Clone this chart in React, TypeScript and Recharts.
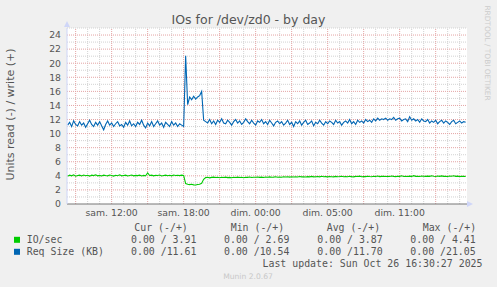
import { LineChart, Line, XAxis, YAxis, ReferenceLine, ReferenceArea } from "recharts";

// samples every 10 minutes, first one at sam. 08:20 (hours counted from sam. 00:00)
const START_HOUR = 8 + 20 / 60;
const STEP_HOURS = 10 / 60;

const ioPerSec = [
  3.95, 4.1, 4.0, 4.15, 3.95, 4.05, 4.1, 3.98, 4.12, 4.02,
  4.08, 3.96, 4.1, 4.03, 4.15, 4.0, 4.06, 3.98, 4.1, 4.04,
  4.0, 4.12, 4.05, 3.97, 4.08, 4.02, 4.14, 4.0, 4.06, 4.1,
  3.98, 4.05, 4.12, 4.0, 4.07, 4.03, 4.1, 3.99, 4.06, 4.02,
  4.41, 4.05, 4.1, 4.0, 4.08, 4.04, 4.12, 3.98, 4.06, 4.1,
  4.02, 4.08, 4.0, 4.11, 4.05, 4.09, 4.03, 4.1, 4.06,
  2.9, 2.8, 2.75, 2.8, 2.72, 2.69, 2.78, 2.8, 2.95, 3.5,
  3.75, 3.8, 3.72, 3.78, 3.82, 3.76, 3.8, 3.74, 3.79, 3.77,
  3.81, 3.75, 3.78, 3.73, 3.8, 3.77, 3.82, 3.76, 3.79, 3.74,
  3.8, 3.78, 3.83, 3.76, 3.8, 3.79, 3.84, 3.78, 3.81, 3.77,
  3.83, 3.8, 3.85, 3.79, 3.82, 3.86, 3.8, 3.84, 3.81, 3.87,
  3.83, 3.86, 3.82, 3.88, 3.84, 3.87, 3.83, 3.9, 3.85, 3.88,
  3.84, 3.89, 3.86, 3.92, 3.85, 3.88, 3.9, 3.86, 3.93, 3.87,
  3.89, 3.85, 3.91, 3.88, 3.86, 3.92, 3.87, 3.9, 3.95, 3.88,
  3.91, 3.87, 3.93, 3.89, 3.86, 3.92, 3.9, 3.96, 3.88, 3.91,
  3.89, 3.94, 3.9, 3.87, 3.93, 3.91, 3.97, 3.89, 3.92, 3.95,
  3.9, 3.94, 3.91, 3.98, 3.92, 3.89, 3.95, 3.93, 4.0, 3.91,
  3.94, 3.9, 3.96, 3.92, 4.02, 3.93, 3.95, 3.91, 3.97, 3.94,
  3.92, 3.96, 3.93, 4.01, 3.94, 3.9, 3.97, 3.93, 3.99, 3.92,
  3.95, 3.91, 3.97, 3.94, 4.02, 3.93, 3.96, 3.9, 3.95, 3.93, 3.91,
];

const reqSizeKb = [
  11.2, 11.6, 11.0, 11.8, 11.3, 11.1, 11.7, 11.2, 11.5, 10.9,
  11.4, 11.9, 11.3, 11.0, 11.6, 11.2, 11.7, 11.1, 10.54, 11.3,
  11.8, 11.2, 11.5, 11.0, 11.4, 11.7, 11.1, 11.3, 10.9, 11.6,
  11.2, 11.8, 11.1, 11.4, 11.0, 11.6, 11.3, 11.9, 11.2, 10.8,
  11.5, 11.1, 11.7, 11.0, 11.4, 11.8, 11.2, 11.5, 10.9, 11.6,
  11.3, 11.0, 11.7, 11.2, 11.5, 11.0, 11.4, 11.2, 11.0,
  21.05, 14.1, 15.2, 14.8, 15.3, 14.9, 15.2, 15.4, 16.0, 11.9,
  11.7, 11.5, 12.0, 11.4, 11.8, 11.3, 11.9, 11.6, 12.1, 11.5,
  11.4, 11.9, 11.6, 11.2, 11.7, 12.0, 11.5, 11.8, 11.3, 11.6,
  12.1, 11.7, 11.4, 11.9, 11.5, 11.2, 11.8, 11.6, 12.0, 11.4,
  11.7, 11.3, 11.9, 11.5, 11.1, 11.6, 11.8, 11.4, 11.7, 11.2,
  11.5, 11.9, 11.3, 11.6, 11.0, 11.7, 11.4, 11.8, 11.2, 11.6,
  11.9, 11.3, 11.5, 11.8, 11.1, 11.6, 11.4, 11.9, 11.5, 11.2,
  11.7, 11.4, 11.8, 11.6, 11.3, 11.9, 11.5, 11.7, 11.2, 11.6,
  11.8, 11.5, 12.0, 11.4, 11.7, 11.3, 11.9, 11.6, 11.8, 11.5,
  12.0, 11.7, 11.9, 11.6, 12.1, 11.8, 12.2, 11.9, 12.1, 12.0,
  12.2, 11.9, 12.1, 12.0, 12.3, 11.9, 12.1, 12.2, 11.8, 12.0,
  12.1, 11.7, 12.4, 11.9, 12.1, 11.8, 12.0, 11.6, 12.1, 11.8,
  11.7, 12.0, 11.5, 11.8, 11.6, 11.9, 11.4, 11.7, 11.9, 11.5,
  11.8, 11.6, 11.3, 11.7, 11.9, 11.4, 11.6, 11.8, 11.5, 11.7, 11.61,
];

const tickHours = [12, 18, 24, 30, 36];
const tickLabels = ["sam. 12:00", "sam. 18:00", "dim. 00:00", "dim. 05:00", "dim. 11:00"];
const yTicks = [0, 2, 4, 6, 8, 10, 12, 14, 16, 18, 20, 22, 24];

const seriesNames = ["IO/sec", "Req Size (KB)"];
const seriesColors = ["#00CC00", "#0066B3"];
const curValues = [[0, 3.91], [0, 11.61]];
const minValues = [[0, 2.69], [0, 10.54]];
const avgValues = [[0, 3.87], [0, 11.70]];
const maxValues = [[0, 4.41], [0, 21.05]];

const X_MIN = 8.28;
const X_MAX = 41.61;
const Y_MAX = 25;

const data = ioPerSec.map((v, i) => ({
  t: START_HOUR + i * STEP_HOURS,
  io: v,
  req: reqSizeKb[i],
}));

// rrdtool style grid: minor every hour / every unit, major every 3 hours / every 2 units
const minorX: number[] = [];
const majorX: number[] = [];
for (let h = 9; h <= 41; h++) (h % 3 === 0 ? majorX : minorX).push(h);
const minorY: number[] = [];
const majorY: number[] = [];
for (let v = 1; v <= Y_MAX; v++) (v % 2 === 0 ? majorY : minorY).push(v);

const MINOR = "#D2D2D2";
const MAJOR = "#E4A4A4";

const fmt = (pair: number[]) =>
  `${pair[0].toFixed(2)} /${pair[1].toFixed(2).padStart(5, " ")}`;

const sans = "'DejaVu Sans', sans-serif";
const mono = "'DejaVu Sans Mono', monospace";

export default function App() {
  return (
    <div style={{ position: "absolute", left: 0, top: 0, width: 497, height: 287, background: "#F0F0F0" }}>
      <LineChart
        width={497}
        height={287}
        data={data}
        margin={{ top: 28, right: 30, bottom: 53, left: 7 }}
      >
        <ReferenceArea x1={X_MIN} x2={X_MAX} y1={0} y2={Y_MAX} fill="#FFFFFF" fillOpacity={1} stroke="none" />
        {minorX.map((h) => (
          <ReferenceLine key={"mx" + h} x={h} stroke={MINOR} strokeDasharray="1 1" />
        ))}
        {minorY.map((v) => (
          <ReferenceLine key={"my" + v} y={v} stroke={MINOR} strokeDasharray="1 1" />
        ))}
        {majorX.map((h) => (
          <ReferenceLine key={"Mx" + h} x={h} stroke={MAJOR} strokeDasharray="1 1" />
        ))}
        {majorY.map((v) => (
          <ReferenceLine key={"My" + v} y={v} stroke={MAJOR} strokeDasharray="1 1" />
        ))}
        <XAxis
          dataKey="t"
          type="number"
          domain={[X_MIN, X_MAX]}
          allowDataOverflow
          ticks={tickHours}
          interval={0}
          tickFormatter={(h: number) => tickLabels[tickHours.indexOf(h)]}
          height={30}
          tickSize={0}
          tickMargin={5}
          axisLine={{ stroke: "#777" }}
          tick={{ fill: "#555", fontSize: 9.3, fontFamily: sans }}
        />
        <YAxis
          type="number"
          domain={[0, Y_MAX]}
          allowDataOverflow
          ticks={yTicks}
          interval={0}
          width={60}
          tickSize={0}
          tickMargin={6}
          axisLine={{ stroke: "#CFD6F8" }}
          tick={{ fill: "#555", fontSize: 9.3, fontFamily: sans }}
        />
        <Line dataKey="io" type="linear" stroke={seriesColors[0]} strokeWidth={1.1} dot={false} isAnimationActive={false} />
        <Line dataKey="req" type="linear" stroke={seriesColors[1]} strokeWidth={1.1} dot={false} isAnimationActive={false} />
      </LineChart>

      <svg width={497} height={287} style={{ position: "absolute", left: 0, top: 0, pointerEvents: "none" }}>
        <polygon points="64,27 70,27 67,21" fill="#CFD6F8" />
        <polygon points="467,201 467,207 473,204" fill="#CFD6F8" />
        <text x={248.5} y={24} textAnchor="middle" fontFamily={sans} fontSize={12.5} fill="#555">
          IOs for /dev/zd0 - by day
        </text>
        <text
          x={10.5}
          y={114.5}
          transform="rotate(-90 10.5 114.5)"
          textAnchor="middle"
          dominantBaseline="central"
          fontFamily={sans}
          fontSize={11}
          fill="#555"
        >
          Units read (-) / write (+)
        </text>
        <text
          x={487}
          y={53}
          transform="rotate(90 487 53)"
          textAnchor="middle"
          dominantBaseline="central"
          fontFamily={sans}
          fontSize={7.4}
          fill="#CCCCCC"
        >
          RRDTOOL / TOBI OETIKER
        </text>

        <g fontFamily={mono} fontSize={9.9} fill="#555">
          <text x={134.3} y={231}>Cur (-/+)</text>
          <text x={230.7} y={231}>Min (-/+)</text>
          <text x={326.7} y={231}>Avg (-/+)</text>
          <text x={422.7} y={231}>Max (-/+)</text>
          {seriesNames.map((name, i) => {
            const y = 243.3 + i * 12;
            return (
              <g key={name}>
                <rect x={14} y={y - 6.5} width={6} height={6} fill={seriesColors[i]} />
                <text x={26.7} y={y}>{name}</text>
                <text x={131} y={y}>{fmt(curValues[i])}</text>
                <text x={224} y={y}>{fmt(minValues[i])}</text>
                <text x={317.3} y={y}>{fmt(avgValues[i])}</text>
                <text x={410.3} y={y}>{fmt(maxValues[i])}</text>
              </g>
            );
          })}
          <text x={482.5} y={267} textAnchor="end">Last update: Sun Oct 26 16:30:27 2025</text>
        </g>
        <text x={248} y={279} textAnchor="middle" fontFamily={sans} fontSize={7.6} fill="#C8C8C8">
          Munin 2.0.67
        </text>
      </svg>
    </div>
  );
}
